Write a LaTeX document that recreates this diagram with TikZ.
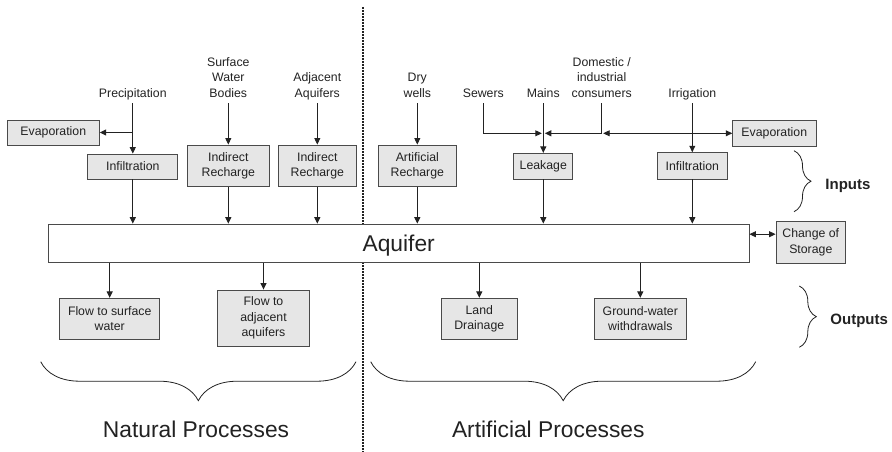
\documentclass[tikz,border=0pt]{standalone}
\usepackage{fontspec}
\setmainfont{Liberation Sans}
\usetikzlibrary{arrows.meta,decorations.pathreplacing}
\definecolor{boxfill}{HTML}{E6E6E6}
\definecolor{boxline}{HTML}{4A4A4A}
\definecolor{ink}{HTML}{222222}

\begin{document}
\begin{tikzpicture}[x=1pt,y=-1pt,color=ink,line width=0.9pt,>={Triangle[length=6.5pt,width=6pt]},
	every node/.style={font=\fontsize{12.3}{15.5}\selectfont},
	box/.style 2 args={draw=boxline,fill=boxfill,line width=0.8pt,align=center,inner sep=0pt,minimum width=#1pt,minimum height=#2pt},
	src/.style={align=center,anchor=south,inner sep=0pt,outer sep=3pt,text depth=3pt},
	big/.style={font=\fontsize{22.8}{27}\selectfont},
	tag/.style={font=\fontsize{15}{18}\selectfont\bfseries,anchor=base west,inner sep=0pt},
	curly/.style={decorate,decoration={brace,amplitude=#1},line width=0.8pt}]
	\useasboundingbox (0,0) rectangle (892,452);

	% divider
	\draw[line width=1.8pt,dash pattern=on 1.6pt off 1.4pt] (363.3,7) -- (363.3,452);

	% sources
	\node[src] (prec)  at (132.8,103.3) {Precipitation};
	\node[src] (surf)  at (228.3,103.3) {Surface\\Water\\Bodies};
	\node[src] (adj)   at (317.3,103.3) {Adjacent\\Aquifers};
	\node[src] (dry)   at (417.3,103.3) {Dry\\wells};
	\node[src] (sewer) at (483.3,103.3) {Sewers};
	\node[src] (mains) at (543.3,103.3) {Mains};
	\node[src] (cons)  at (601.7,103.3) {Domestic /\\industrial\\consumers};
	\node[src] (irrig) at (692.3,103.3) {Irrigation};

	% boxes
	\node[box={92}{25}]     (evap_l)  at (53.3,132.5)  {Evaporation};
	\node[box={90}{25}]     (infil_l) at (132.8,166.5) {Infiltration};
	\node[box={82.6}{41.7}] (rech_a)  at (228.3,165.8) {Indirect\\Recharge};
	\node[box={77.3}{41.7}] (rech_b)  at (317.3,165.8) {Indirect\\Recharge};
	\node[box={77.7}{41.7}] (rech_c)  at (417.3,165.8) {Artificial\\Recharge};
	\node[box={59}{25.7}]   (leak)    at (543.3,166.2) {Leakage};
	\node[box={70}{26.3}]   (infil_r) at (692.3,165.8) {Infiltration};
	\node[box={83.3}{25.7}] (evap_r)  at (774.3,133.3) {Evaporation};
	\node[box={700.7}{38.3},fill=white,big,text depth=0pt] (aquifer) at (398.7,243.2) {Aquifer};
	\node[box={69.7}{41.6}] (storage) at (810.8,242.5) {Change of\\Storage};
	\node[box={100}{41}]    (flow_s)  at (109.7,318.8) {Flow to surface\\water};
	\node[box={92.7}{56.7}] (flow_a)  at (263.5,318.3) {Flow to\\adjacent\\aquifers};
	\node[box={75.6}{41}]   (drain)   at (479.3,318.8) {Land\\Drainage};
	\node[box={92.7}{41}]   (withdr)  at (640.3,318.8) {Ground-water\\withdrawals};

	\coordinate (split_p) at (132.8,132.5);
	\coordinate (join_m)  at (543.3,133.3);
	\coordinate (join_c)  at (601.7,133.3);
	\coordinate (join_i)  at (692.3,133.3);
	\coordinate (st_a)    at ([yshift=9pt]aquifer.east);

	\path[->]
	(prec) edge (infil_l)
	(split_p) edge (evap_l)
	(surf) edge (rech_a)
	(adj) edge (rech_b)
	(dry) edge (rech_c)
	(mains) edge (leak)
	(irrig) edge (infil_r)
	(join_i) edge (evap_r)
	(infil_l) edge (infil_l |- aquifer.north)
	(rech_a) edge (rech_a |- aquifer.north)
	(rech_b) edge (rech_b |- aquifer.north)
	(rech_c) edge (rech_c |- aquifer.north)
	(leak) edge (leak |- aquifer.north)
	(infil_r) edge (infil_r |- aquifer.north)
	(aquifer.south -| flow_s) edge (flow_s)
	(aquifer.south -| flow_a) edge (flow_a)
	(aquifer.south -| drain) edge (drain)
	(aquifer.south -| withdr) edge (withdr)
	;
	\draw[->,shorten >=1.5pt] (sewer) |- (join_m);
	\draw (cons) -- (join_c);
	\draw[->,shorten >=1.5pt] (join_c) -- (join_m);
	\draw[->,shorten >=1.5pt] (join_i) -- (join_c);
	\draw[<->] (st_a) -- (st_a -| storage.west);

	% braces
	\draw[curly=39pt] (356,361.7) -- (40.7,361.7);
	\draw[curly=39pt] (755.7,361.7) -- (370.7,361.7);
	\draw[curly=17pt] (794,150.7) -- (794,211.7);
	\draw[curly=17pt] (799.3,286) -- (799.3,347.3);

	\node[big,anchor=base] (natural) at (196,437.3) {Natural Processes};
	\node[big,anchor=base] (artif)   at (548.3,437.3) {Artificial Processes};
	\node[tag] (inputs)  at (825,189.3) {Inputs};
	\node[tag] (outputs) at (830,324) {Outputs};
\end{tikzpicture}
\end{document}
